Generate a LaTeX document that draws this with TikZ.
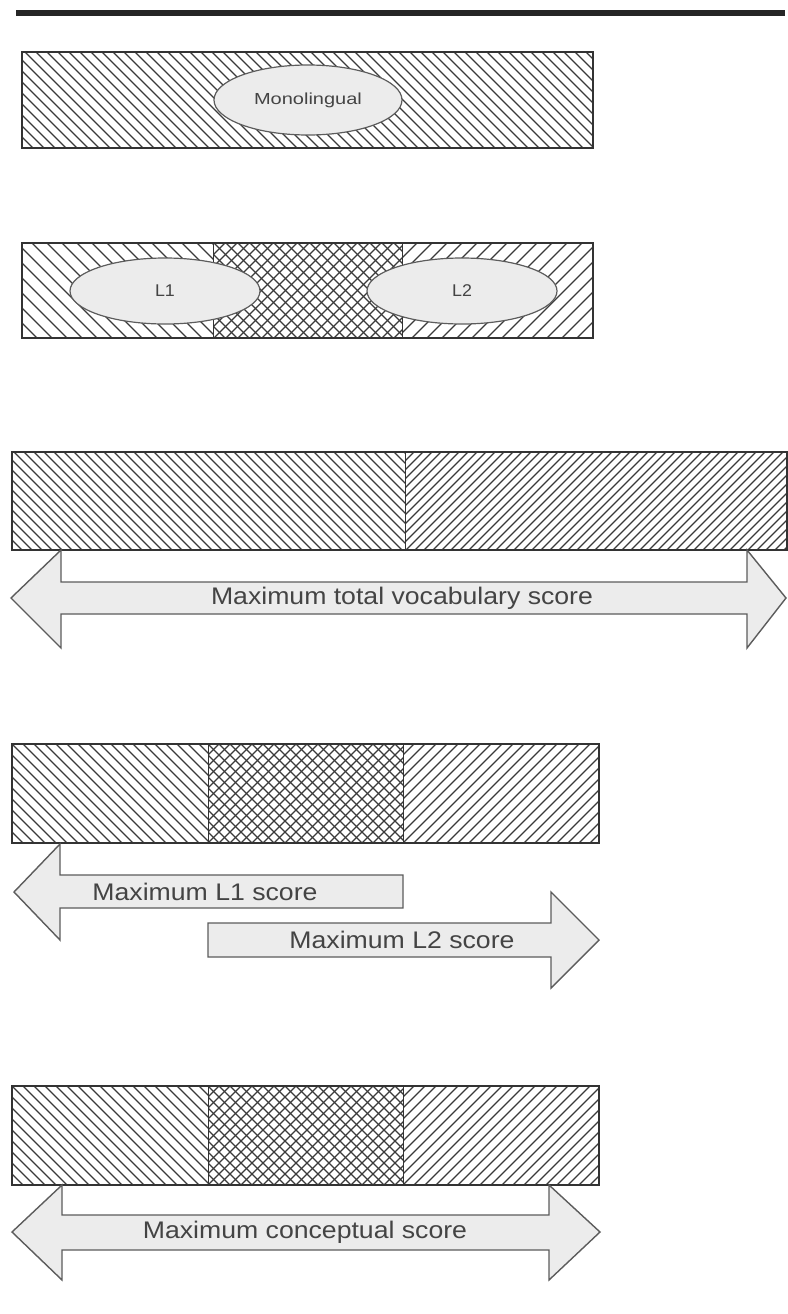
\documentclass[tikz,border=0pt]{standalone}
\usepackage{fontspec}
\setmainfont{Liberation Sans}
\usepackage{tikz}
\usetikzlibrary{positioning,shapes.geometric}
\definecolor{HatchGray}{HTML}{3A3A3A}
\definecolor{EdgeGray}{HTML}{333333}
\definecolor{ArrowGray}{HTML}{5C5C5C}
\definecolor{PaleFill}{HTML}{ECECEC}
\definecolor{TextGray}{HTML}{444444}

% diagonal hatching inside a rectangle: x1,y1,x2,y2,spacing
\newcommand{\hatchdown}[5]{%
  \begin{scope}
    \clip (#1,#2) rectangle (#3,#4);
    \pgfmathtruncatemacro{\hn}{(#3-#1+#4-#2)/#5+1}
    \foreach \i in {0,...,\hn}
      \draw[hatchline] ({#1-(#4-#2)+\i*#5},#2) -- ++({#4-#2},{#4-#2});
  \end{scope}}
\newcommand{\hatchup}[5]{%
  \begin{scope}
    \clip (#1,#2) rectangle (#3,#4);
    \pgfmathtruncatemacro{\hn}{(#3-#1+#4-#2)/#5+1}
    \foreach \i in {0,...,\hn}
      \draw[hatchline] ({#1-(#4-#2)+\i*#5},#4) -- ++({#4-#2},{-(#4-#2)});
  \end{scope}}
\newcommand{\hatchcross}[5]{\hatchdown{#1}{#2}{#3}{#4}{#5}\hatchup{#1}{#2}{#3}{#4}{#5}}

\begin{document}
\begin{tikzpicture}[x=1pt,y=-1pt,
    hatchline/.style={HatchGray,line width=1.35pt},
    frame/.style={EdgeGray,line width=1.3pt},
    blob/.style={ellipse,draw=ArrowGray,fill=PaleFill,line width=1.2pt,inner sep=0pt,
      text=TextGray},
    bigarrow/.style={draw=ArrowGray,fill=PaleFill,line width=1.4pt,line join=miter},
    lbl/.style={text=TextGray,font=\fontsize{24}{27}\selectfont,xscale=1.11,inner sep=0pt}]
  \useasboundingbox (0,0) rectangle (787,1314);
  \draw[line width=6pt,black!85] (16,13.5) -- (785,13.5);

  % monolingual
  \hatchdown{22}{52}{593}{148}{11}
  \draw[frame] (22,52) rectangle (593,148);
  \node[blob,minimum width=188pt,minimum height=70pt,
    font=\fontsize{16}{18}\selectfont] (mono) at (308,100)
    {\scalebox{1.25}[1]{Monolingual}};

  % bilingual
  \hatchdown{22}{243}{213}{338}{15}
  \hatchcross{213}{243}{402}{338}{12}
  \hatchup{402}{243}{593}{338}{15}
  \draw[frame] (22,243) rectangle (593,338);
  \draw[frame,line width=0.8pt] (213,243) -- (213,338) (402,243) -- (402,338);
  \node[blob,minimum width=190pt,minimum height=66pt,
    font=\fontsize{17}{20}\selectfont] (lone) at (165,291) {\scalebox{1.05}[1]{L1}};
  \node[blob,minimum width=190pt,minimum height=66pt,
    font=\fontsize{17}{20}\selectfont] (ltwo) at (462,291) {\scalebox{1.05}[1]{L2}};

  % total vocabulary
  \hatchdown{12}{452}{405}{550}{10}
  \hatchup{405}{452}{787}{550}{9}
  \draw[frame] (12,452) rectangle (787,550);
  \draw[frame,line width=0.8pt] (405,452) -- (405,550);
  \draw[bigarrow] (11,598) -- (61,550) -- (61,582) -- (747,582) -- (747,550)
    -- (786,598) -- (747,648) -- (747,614) -- (61,614) -- (61,648) -- cycle;
  \node[lbl] (total) at (402,598) {Maximum total vocabulary score};

  % separate L1 and L2
  \hatchdown{12}{744}{208}{843}{11}
  \hatchcross{208}{744}{403}{843}{11}
  \hatchup{403}{744}{599}{843}{11}
  \draw[frame] (12,744) rectangle (599,843);
  \draw[frame,line width=0.8pt] (208,744) -- (208,843) (403,744) -- (403,843);
  \draw[bigarrow] (14,892) -- (60,844) -- (60,875) -- (403,875) -- (403,908)
    -- (60,908) -- (60,940) -- cycle;
  \node[lbl] (maxone) at (205,892) {Maximum L1 score};
  \draw[bigarrow] (599,940) -- (551,892) -- (551,923) -- (208,923) -- (208,957)
    -- (551,957) -- (551,988) -- cycle;
  \node[lbl] (maxtwo) at (402,940) {Maximum L2 score};

  % conceptual
  \hatchdown{12}{1086}{208}{1185}{11}
  \hatchcross{208}{1086}{403}{1185}{11}
  \hatchup{403}{1086}{599}{1185}{11}
  \draw[frame] (12,1086) rectangle (599,1185);
  \draw[frame,line width=0.8pt] (208,1086) -- (208,1185) (403,1086) -- (403,1185);
  \draw[bigarrow] (12,1232) -- (62,1185) -- (62,1215) -- (549,1215) -- (549,1185)
    -- (600,1232) -- (549,1280) -- (549,1250) -- (62,1250) -- (62,1280) -- cycle;
  \node[lbl] (concept) at (305,1232) {Maximum conceptual score};
\end{tikzpicture}
\end{document}
